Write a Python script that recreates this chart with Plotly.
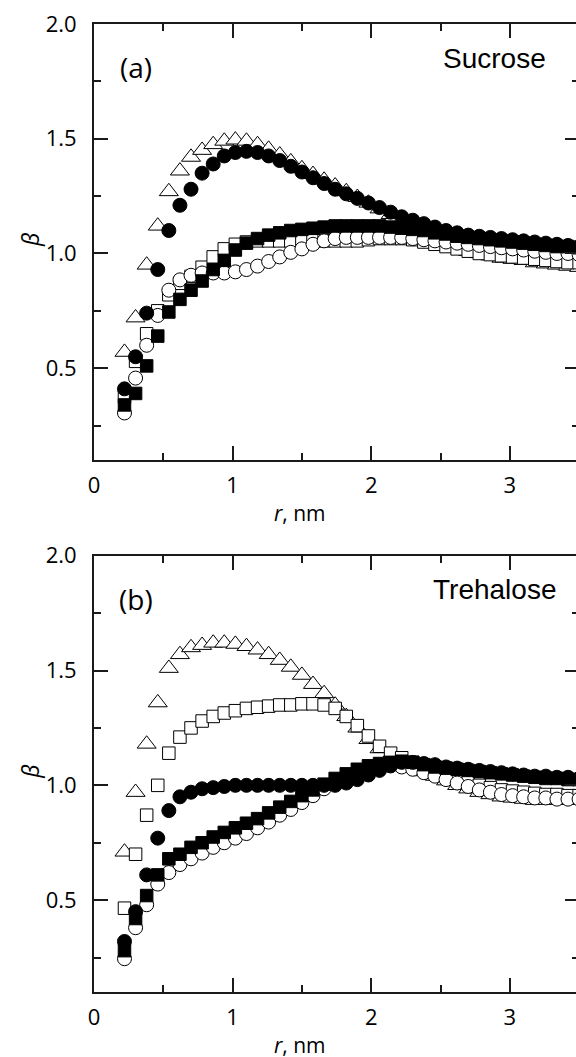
import plotly.graph_objects as go

# ---------------- data ----------------
r_nm = [0.22, 0.30, 0.38, 0.46, 0.54, 0.62, 0.70, 0.78, 0.86, 0.94,
        1.02, 1.10, 1.18, 1.26, 1.34, 1.42, 1.50, 1.58, 1.66, 1.74,
        1.82, 1.90, 1.98, 2.06, 2.14, 2.22, 2.30, 2.38, 2.46, 2.54,
        2.62, 2.70, 2.78, 2.86, 2.94, 3.02, 3.10, 3.18, 3.26, 3.34,
        3.42, 3.50]

# Panel (a) Sucrose
suc_tri_open = [0.57, 0.72, 0.95, 1.12, 1.27, 1.36, 1.42, 1.45, 1.475, 1.49,
                1.495, 1.49, 1.475, 1.455, 1.43, 1.40, 1.37, 1.345, 1.32, 1.295,
                1.27, 1.245, 1.22, 1.195, 1.17, 1.14, 1.11, 1.085, 1.06, 1.04,
                1.025, 1.01, 1.0, 0.99, 0.98, 0.975, 0.97, 0.96, 0.955, 0.95,
                0.945, 0.94]
suc_sq_open = [0.375, 0.53, 0.65, 0.75, 0.82, 0.87, 0.90, 0.94, 0.985, 1.02,
               1.04, 1.05, 1.055, 1.055, 1.055, 1.055, 1.055, 1.055, 1.055, 1.055,
               1.055, 1.055, 1.06, 1.065, 1.065, 1.065, 1.06, 1.05, 1.04, 1.03,
               1.02, 1.01, 1.0, 0.995, 0.99, 0.985, 0.98, 0.975, 0.97, 0.965,
               0.96, 0.96]
suc_circ_open = [0.305, 0.457, 0.60, 0.73, 0.84, 0.885, 0.905, 0.915, 0.915, 0.915,
                 0.92, 0.93, 0.945, 0.965, 0.985, 1.005, 1.02, 1.04, 1.055, 1.065,
                 1.07, 1.07, 1.07, 1.07, 1.07, 1.07, 1.065, 1.06, 1.055, 1.05,
                 1.045, 1.04, 1.035, 1.03, 1.025, 1.02, 1.015, 1.01, 1.005, 1.0,
                 1.0, 0.995]
suc_sq_fill = [0.34, 0.39, 0.51, 0.64, 0.745, 0.80, 0.84, 0.88, 0.93, 0.97,
               1.015, 1.045, 1.065, 1.08, 1.09, 1.10, 1.105, 1.11, 1.115, 1.12,
               1.12, 1.12, 1.12, 1.12, 1.115, 1.11, 1.105, 1.10, 1.09, 1.085,
               1.075, 1.07, 1.065, 1.06, 1.055, 1.05, 1.045, 1.04, 1.035, 1.03,
               1.03, 1.025]
suc_circ_fill = [0.41, 0.55, 0.74, 0.93, 1.10, 1.21, 1.28, 1.35, 1.39, 1.425,
                 1.44, 1.445, 1.44, 1.425, 1.405, 1.38, 1.355, 1.33, 1.305, 1.28,
                 1.26, 1.24, 1.22, 1.20, 1.18, 1.16, 1.145, 1.13, 1.115, 1.10,
                 1.09, 1.08, 1.075, 1.07, 1.065, 1.06, 1.055, 1.05, 1.045, 1.04,
                 1.035, 1.03]

# Panel (b) Trehalose
tre_tri_open = [0.71, 0.97, 1.18, 1.36, 1.51, 1.57, 1.60, 1.61, 1.62, 1.62,
                1.615, 1.605, 1.59, 1.57, 1.545, 1.515, 1.48, 1.44, 1.40, 1.35,
                1.30, 1.25, 1.20, 1.16, 1.13, 1.10, 1.08, 1.06, 1.04, 1.02,
                1.0, 0.985, 0.97, 0.96, 0.95, 0.945, 0.94, 0.935, 0.935, 0.935,
                0.935, 0.935]
tre_sq_open = [0.465, 0.70, 0.87, 1.00, 1.14, 1.21, 1.25, 1.28, 1.30, 1.315,
               1.325, 1.335, 1.34, 1.345, 1.35, 1.35, 1.355, 1.355, 1.35, 1.335,
               1.30, 1.26, 1.215, 1.17, 1.14, 1.12, 1.10, 1.08, 1.06, 1.045,
               1.03, 1.015, 1.0, 0.99, 0.98, 0.975, 0.97, 0.965, 0.96, 0.96,
               0.955, 0.955]
tre_circ_open = [0.245, 0.38, 0.48, 0.57, 0.62, 0.655, 0.68, 0.705, 0.73, 0.75,
                 0.77, 0.79, 0.815, 0.84, 0.87, 0.895, 0.925, 0.955, 0.985, 1.01,
                 1.035, 1.055, 1.07, 1.08, 1.085, 1.08, 1.07, 1.055, 1.04, 1.025,
                 1.01, 0.995, 0.98, 0.97, 0.96, 0.955, 0.95, 0.945, 0.945, 0.94,
                 0.94, 0.94]
tre_sq_fill = [0.28, 0.42, 0.52, 0.61, 0.68, 0.70, 0.73, 0.75, 0.775, 0.795,
               0.815, 0.835, 0.855, 0.88, 0.905, 0.93, 0.955, 0.98, 1.005, 1.03,
               1.05, 1.07, 1.085, 1.095, 1.10, 1.105, 1.10, 1.09, 1.08, 1.075,
               1.07, 1.065, 1.06, 1.055, 1.05, 1.045, 1.04, 1.035, 1.03, 1.03,
               1.025, 1.025]
tre_circ_fill = [0.32, 0.45, 0.61, 0.77, 0.89, 0.95, 0.97, 0.985, 0.99, 0.995,
                 1.0, 1.0, 1.0, 1.0, 1.0, 1.0, 1.0, 1.0, 1.0, 1.0,
                 1.01, 1.025, 1.045, 1.065, 1.085, 1.10, 1.10, 1.095, 1.09, 1.08,
                 1.075, 1.07, 1.065, 1.06, 1.055, 1.05, 1.045, 1.04, 1.04, 1.035,
                 1.035, 1.03]

x_ticks = [0, 1, 2, 3]
x_ticktext = ["0", "1", "2", "3"]
y_ticks = [0.5, 1.0, 1.5, 2.0]
y_ticktext = ["0.5", "1.0", "1.5", "2.0"]
panel_labels = ["(a)", "(b)"]
panel_names = ["Sucrose", "Trehalose"]
x_title = "<i>r</i>, nm"
y_title = "<i>β</i>"

# ---------------- layout geometry ----------------
W, H = 576, 1057
ML, MR, MT, MB = 94, 0, 24, 65
PX_PER_NM = 138.6
X_MAX = (W - ML - MR) / PX_PER_NM
Y_RANGE = [0.1, 2.0]
plot_h = H - MT - MB
top_dom = [(992 - 460) / plot_h, 1.0]
bot_dom = [0.0, (992 - 555.7) / plot_h]

def px(xp):
    return (xp - ML) / (W - ML - MR)

def py(yp):
    return (H - MB - yp) / plot_h

INK = "#1a1a1a"
tick_font = dict(family="Open Sans", size=22, color="black")

fig = go.Figure()

def series(xa, ya, y, symbol, fill, size):
    fig.add_trace(go.Scatter(
        x=r_nm, y=y, mode="markers", xaxis=xa, yaxis=ya,
        marker=dict(symbol=symbol, size=size, color=fill,
                    line=dict(color="black", width=1)),
        showlegend=False, hoverinfo="skip"))

panels = [
    ("x", "y", [suc_tri_open, suc_sq_open, suc_circ_open, suc_sq_fill, suc_circ_fill]),
    ("x2", "y2", [tre_tri_open, tre_sq_open, tre_circ_open, tre_sq_fill, tre_circ_fill]),
]
styles = [("triangle-up", "white", 16.5), ("square", "white", 12.5),
          ("circle", "white", 14), ("square", "black", 12.5),
          ("circle", "black", 14)]
for xa, ya, ser in panels:
    for y, (sym, col, sz) in zip(ser, styles):
        series(xa, ya, y, sym, col, sz)

# empty traces to activate frame overlay axes
for xa, ya in [("x3", "y3"), ("x4", "y4")]:
    fig.add_trace(go.Scatter(x=[], y=[], xaxis=xa, yaxis=ya,
                             showlegend=False, hoverinfo="skip"))

def xaxis_main(anchor):
    return dict(domain=[0, 1], range=[0, X_MAX], anchor=anchor,
                showline=True, linewidth=2, linecolor=INK, mirror=False,
                ticks="inside", ticklen=14, tickwidth=1.5, tickcolor=INK,
                tickvals=x_ticks, ticktext=x_ticktext, tickfont=tick_font,
                ticklabelstandoff=5,
                minor=dict(dtick=0.5, tick0=0, ticks="inside", ticklen=7,
                           tickwidth=1.5, tickcolor=INK, showgrid=False),
                showgrid=False, zeroline=False)

def yaxis_main(dom, anchor):
    return dict(domain=dom, range=Y_RANGE, anchor=anchor,
                showline=True, linewidth=2, linecolor=INK, mirror=False,
                ticks="inside", ticklen=14, tickwidth=1.5, tickcolor=INK,
                tickvals=y_ticks, ticktext=y_ticktext, tickfont=tick_font,
                ticklabelstandoff=11,
                minor=dict(dtick=0.25, tick0=0, ticks="inside", ticklen=7,
                           tickwidth=1.5, tickcolor=INK, showgrid=False),
                showgrid=False, zeroline=False)

def xaxis_top(overlay, anchor):
    return dict(overlaying=overlay, side="top", anchor=anchor, range=[0, X_MAX],
                showline=True, linewidth=2, linecolor=INK,
                ticks="inside", ticklen=14, tickwidth=1.5, tickcolor=INK,
                tickvals=x_ticks, showticklabels=False,
                minor=dict(dtick=0.5, tick0=0, ticks="inside", ticklen=7,
                           tickwidth=1.5, tickcolor=INK, showgrid=False),
                showgrid=False, zeroline=False)

def yaxis_right(overlay, anchor):
    return dict(overlaying=overlay, side="right", anchor=anchor, range=Y_RANGE,
                showline=False,
                ticks="inside", ticklen=11, tickwidth=1.5, tickcolor=INK,
                tickvals=y_ticks, showticklabels=False,
                minor=dict(dtick=0.25, tick0=0, ticks="inside", ticklen=4,
                           tickwidth=1.5, tickcolor=INK, showgrid=False),
                showgrid=False, zeroline=False)

annotations = []
for i, (lab, name) in enumerate(zip(panel_labels, panel_names)):
    off = 0 if i == 0 else 531.7
    annotations.append(dict(text=lab, x=px(135.5), y=py(67 + off), xref="paper", yref="paper",
                            showarrow=False, xanchor="center", yanchor="middle",
                            font=dict(family="Open Sans", size=28, color="black")))
    annotations.append(dict(text=name, x=px(494), y=py(58 + off), xref="paper", yref="paper",
                            showarrow=False, xanchor="center", yanchor="middle",
                            font=dict(family="Liberation Sans", size=28, color="black")))
    annotations.append(dict(text=x_title, x=px(300), y=py(513 + off), xref="paper", yref="paper",
                            showarrow=False, xanchor="center", yanchor="middle",
                            font=dict(family="Open Sans", size=21, color="black")))
    annotations.append(dict(text=y_title, x=px(30), y=py(240 + off), xref="paper", yref="paper",
                            showarrow=False, xanchor="center", yanchor="middle", textangle=-90,
                            font=dict(family="Open Sans", size=23, color="black")))

fig.update_layout(
    width=W, height=H,
    margin=dict(l=ML, r=MR, t=MT, b=MB, pad=0),
    paper_bgcolor="white", plot_bgcolor="white",
    showlegend=False,
    xaxis=xaxis_main("y"),
    yaxis=yaxis_main(top_dom, "x"),
    xaxis2=xaxis_main("y2"),
    yaxis2=yaxis_main(bot_dom, "x2"),
    xaxis3=xaxis_top("x", "y3"),
    yaxis3=yaxis_right("y", "x3"),
    xaxis4=xaxis_top("x2", "y4"),
    yaxis4=yaxis_right("y2", "x4"),
    annotations=annotations,
)

fig.write_html("out.html")
